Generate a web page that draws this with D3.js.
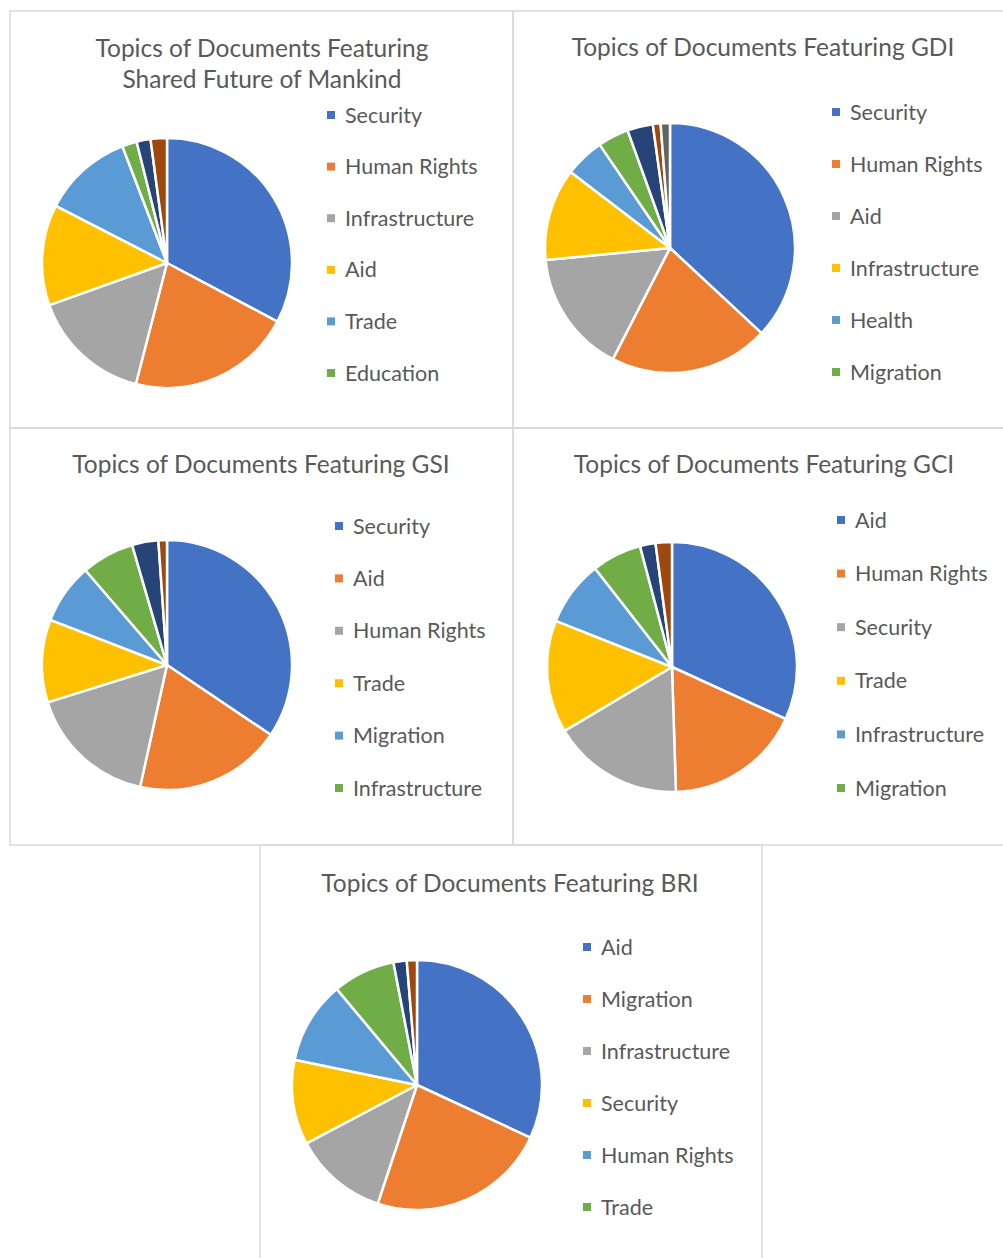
<!DOCTYPE html>
<html>
<head>
<meta charset="utf-8">
<script src="https://cdn.jsdelivr.net/npm/d3@7"></script>
<style>
  body { margin: 0; background: #fff; }
  svg { display: block; }
  text { font-family: Lato, "Open Sans", sans-serif; fill: #595959; }
</style>
</head>
<body>
<svg id="chart" width="1003" height="1258"></svg>
<script>
// office palette, used in slice order
const palette = ["#4472C4", "#ED7D31", "#A5A5A5", "#FFC000", "#5B9BD5", "#70AD47", "#264478", "#9E480E", "#636363"];

// Shared Future of Mankind
const sfmTopics = ["Security", "Human Rights", "Infrastructure", "Aid", "Trade", "Education", "Health", "Migration"];
const sfmValues = [32.7, 21.2, 15.5, 13.0, 11.6, 1.9, 1.8, 2.1];

// GDI
const gdiTopics = ["Security", "Human Rights", "Aid", "Infrastructure", "Health", "Migration", "Trade", "Education", "Environment"];
const gdiValues = [36.9, 20.6, 15.9, 11.9, 5.1, 4.0, 3.3, 1.0, 1.2];

// GSI
const gsiTopics = ["Security", "Aid", "Human Rights", "Trade", "Migration", "Infrastructure", "Health", "Education"];
const gsiValues = [34.4, 19.0, 16.7, 10.7, 7.8, 6.8, 3.4, 1.1];

// GCI
const gciTopics = ["Aid", "Human Rights", "Security", "Trade", "Infrastructure", "Migration", "Health", "Education"];
const gciValues = [31.7, 17.6, 16.9, 14.5, 8.4, 6.4, 2.0, 2.1];

// BRI
const briTopics = ["Aid", "Migration", "Infrastructure", "Security", "Human Rights", "Trade", "Health", "Education"];
const briValues = [31.7, 23.0, 12.1, 10.9, 10.6, 8.0, 1.7, 1.3];

const svg = d3.select("#chart");

const charts = [
  {title: ["Topics of Documents Featuring", "Shared Future of Mankind"], topics: sfmTopics, values: sfmValues,
   box: [10, 11, 503, 417], titleX: 262, titleY: 57, cx: 167, cy: 263, legX: 327, legY: 115, legStep: 51.6},
  {title: ["Topics of Documents Featuring GDI"], topics: gdiTopics, values: gdiValues,
   box: [513, 11, 500, 417], titleX: 763, titleY: 56, cx: 670, cy: 248, legX: 832, legY: 112, legStep: 52},
  {title: ["Topics of Documents Featuring GSI"], topics: gsiTopics, values: gsiValues,
   box: [10, 428, 503, 417], titleX: 261, titleY: 473, cx: 167, cy: 665, legX: 335, legY: 526, legStep: 52.4},
  {title: ["Topics of Documents Featuring GCI"], topics: gciTopics, values: gciValues,
   box: [513, 428, 500, 417], titleX: 764, titleY: 473, cx: 672, cy: 667, legX: 837, legY: 520, legStep: 53.6},
  {title: ["Topics of Documents Featuring BRI"], topics: briTopics, values: briValues,
   box: [260, 845, 502, 420], titleX: 510, titleY: 892, cx: 417, cy: 1085, legX: 583, legY: 947, legStep: 52}
];

const radius = 125;
const pie = d3.pie().sort(null).value(d => d.value);
const arc = d3.arc().innerRadius(0).outerRadius(radius);

charts.forEach(function(c){
  const data = c.topics.map((t, i) => ({topic: t, value: c.values[i]}));
  const color = d3.scaleOrdinal().domain(c.topics).range(palette);

  svg.append("rect")
    .attr("x", c.box[0]).attr("y", c.box[1])
    .attr("width", c.box[2]).attr("height", c.box[3])
    .attr("fill", "none").attr("stroke", "#d9d9d9").attr("stroke-width", 1.5);

  const title = svg.append("text")
    .attr("x", c.titleX).attr("y", c.titleY)
    .attr("text-anchor", "middle")
    .style("font-size", "24.5px");
  c.title.forEach(function(line, i){
    title.append("tspan").attr("x", c.titleX).attr("dy", i === 0 ? 0 : 31).text(line);
  });

  const g = svg.append("g").attr("transform", `translate(${c.cx},${c.cy})`);
  g.selectAll("path")
    .data(pie(data))
    .enter()
    .append("path")
    .attr("d", arc)
    .attr("fill", d => color(d.data.topic))
    .attr("stroke", "#fff")
    .attr("stroke-width", 2.5)
    .attr("stroke-linejoin", "round");

  // legend shows only the first six topics
  const leg = svg.append("g").attr("transform", `translate(${c.legX},${c.legY})`);
  const item = leg.selectAll("g")
    .data(c.topics.slice(0, 6))
    .enter()
    .append("g")
    .attr("transform", (d, i) => `translate(0,${i * c.legStep})`);
  item.append("rect")
    .attr("x", 0).attr("y", -4).attr("width", 8).attr("height", 8)
    .attr("fill", d => color(d));
  item.append("text")
    .attr("x", 18).attr("y", 0).attr("dy", "0.35em")
    .style("font-size", "21.5px")
    .text(d => d);
});
</script>
</body>
</html>
